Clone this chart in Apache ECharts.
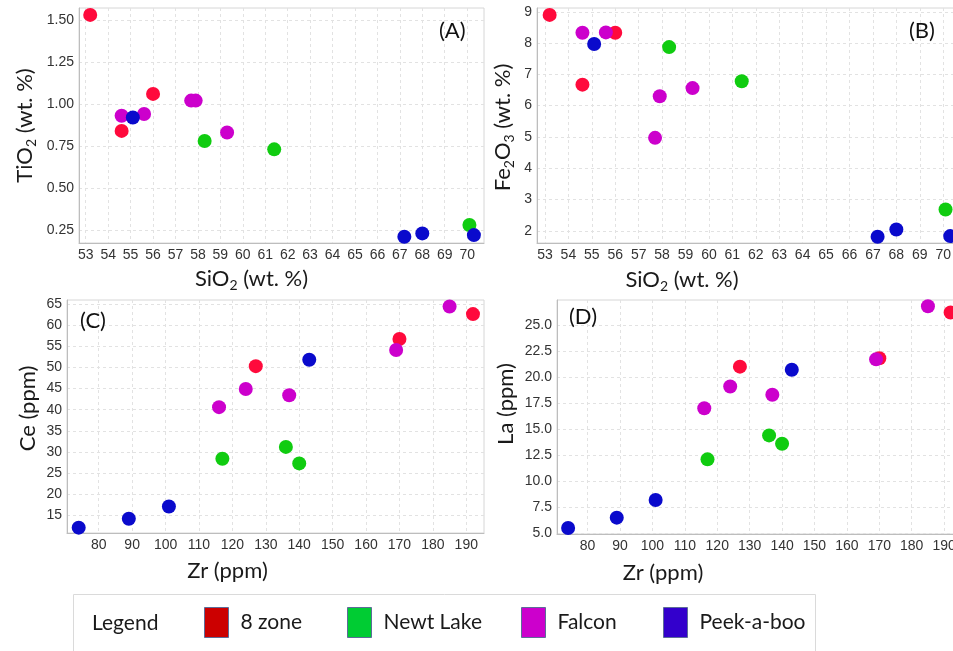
<!DOCTYPE html>
<html>
<head>
<meta charset="utf-8">
<script src="https://cdn.jsdelivr.net/npm/echarts@6/dist/echarts.min.js"></script>
<style>
  html, body { margin: 0; padding: 0; background: #ffffff; }
  #chart { width: 953px; height: 651px; }
</style>
</head>
<body>
<div id="chart"></div>
<script>
// Sample groups
const groups = ['8 zone', 'Newt Lake', 'Falcon', 'Peek-a-boo'];

// 8 zone
const zone8SiO2 = [53.2, 56.0, 54.6];
const zone8TiO2 = [1.53, 1.06, 0.84];
const zone8Fe2O3 = [8.90, 8.33, 6.67];
const zone8Zr = [127, 170, 192];
const zone8Ce = [50.3, 56.7, 62.6];
const zone8La = [21.0, 21.8, 26.2];

// Newt Lake
const newtSiO2 = [58.3, 61.4, 70.1];
const newtTiO2 = [0.78, 0.73, 0.28];
const newtFe2O3 = [7.87, 6.78, 2.68];
const newtZr = [117, 136, 140];
const newtCe = [28.4, 31.2, 27.3];
const newtLa = [12.1, 14.4, 13.6];

// Falcon
const falconSiO2 = [54.6, 55.6, 57.7, 57.9, 59.3];
const falconTiO2 = [0.93, 0.94, 1.02, 1.02, 0.83];
const falconFe2O3 = [8.33, 8.34, 4.97, 6.30, 6.56];
const falconZr = [116, 124, 137, 169, 185];
const falconCe = [40.6, 44.9, 43.4, 54.1, 64.4];
const falconLa = [17.0, 19.1, 18.3, 21.7, 26.8];

// Peek-a-boo
const peekSiO2 = [55.1, 67.2, 68.0, 70.3];
const peekTiO2 = [0.92, 0.21, 0.23, 0.22];
const peekFe2O3 = [7.97, 1.81, 2.04, 1.83];
const peekZr = [74, 89, 101, 143];
const peekCe = [12.1, 14.2, 17.1, 51.8];
const peekLa = [5.5, 6.5, 8.2, 20.7];

// Tick values
const sio2Ticks = [53, 54, 55, 56, 57, 58, 59, 60, 61, 62, 63, 64, 65, 66, 67, 68, 69, 70];
const tio2Ticks = [0.25, 0.50, 0.75, 1.00, 1.25, 1.50];
const fe2o3Ticks = [2, 3, 4, 5, 6, 7, 8, 9];
const zrTicks = [80, 90, 100, 110, 120, 130, 140, 150, 160, 170, 180, 190];
const ceTicks = [15, 20, 25, 30, 35, 40, 45, 50, 55, 60, 65];
const laTicks = [5.0, 7.5, 10.0, 12.5, 15.0, 17.5, 20.0, 22.5, 25.0];

// Styling
const markerColors = ['#ff0a3c', '#10cc10', '#cc00cc', '#0a0acc'];
const swatchColors = ['#cc0000', '#00cc33', '#cc00cc', '#3300cc'];
const legendLefts = [204, 347, 521, 663];
const textColor = '#1a1a1a';
const titleFont = 'Lato, "Open Sans", sans-serif';
const tickFont = '"Liberation Sans", Arial, sans-serif';

const zip = (xs, ys) => xs.map((x, i) => [x, ys[i]]);

const panels = [
  {
    grid: { left: 79, top: 8, width: 405, height: 235 },
    label: '(A)', labelPos: { left: 439, top: 20 },
    x: { min: 52.7, max: 70.75, ticks: sio2Ticks, digits: 0, name: 'SiO{s|2} (wt. %)', gap: 23, pad: [0, 60, 0, 0] },
    y: { min: 0.173, max: 1.571, ticks: tio2Ticks, digits: 2, name: 'TiO{s|2} (wt. %)', gap: 41, pad: [0, 0, 0, 0] },
    data: [[zone8SiO2, zone8TiO2], [newtSiO2, newtTiO2], [falconSiO2, falconTiO2], [peekSiO2, peekTiO2]]
  },
  {
    grid: { left: 537, top: 8, width: 424, height: 235 },
    label: '(B)', labelPos: { left: 909, top: 20 },
    x: { min: 52.66, max: 70.76, ticks: sio2Ticks, digits: 0, name: 'SiO{s|2} (wt. %)', gap: 24, pad: [0, 134, 0, 0] },
    y: { min: 1.61, max: 9.12, ticks: fe2o3Ticks, digits: 0, name: 'Fe{s|2}O{s|3} (wt. %)', gap: 21, pad: [0, 4, 0, 0] },
    data: [[zone8SiO2, zone8Fe2O3], [newtSiO2, newtFe2O3], [falconSiO2, falconFe2O3], [peekSiO2, peekFe2O3]]
  },
  {
    grid: { left: 67, top: 300, width: 417, height: 233 },
    label: '(C)', labelPos: { left: 80, top: 310 },
    x: { min: 70.5, max: 195.3, ticks: zrTicks, digits: 0, name: 'Zr (ppm)', gap: 27, pad: [0, 96, 0, 0] },
    y: { min: 10.84, max: 65.94, ticks: ceTicks, digits: 0, name: 'Ce (ppm)', gap: 28, pad: [0, 0, 0, 16] },
    data: [[zone8Zr, zone8Ce], [newtZr, newtCe], [falconZr, falconCe], [peekZr, peekCe]]
  },
  {
    grid: { left: 557, top: 300, width: 404, height: 234 },
    label: '(D)', labelPos: { left: 569, top: 306 },
    x: { min: 70.57, max: 195.2, ticks: zrTicks, digits: 0, name: 'Zr (ppm)', gap: 28, pad: [0, 192, 0, 0] },
    y: { min: 4.93, max: 27.4, ticks: laTicks, digits: 1, name: 'La (ppm)', gap: 40, pad: [0, 0, 0, 26] },
    data: [[zone8Zr, zone8La], [newtZr, newtLa], [falconZr, falconLa], [peekZr, peekLa]]
  }
];

function nameStyle(padding) {
  return {
    fontFamily: titleFont, fontSize: 22, color: textColor, padding: padding,
    rich: { s: { fontFamily: titleFont, fontSize: 14, color: textColor, padding: [12, 0, 0, 0] } }
  };
}

function axis(spec, gridIndex) {
  return {
    type: 'value', gridIndex: gridIndex,
    min: spec.min, max: spec.max,
    name: spec.name, nameLocation: 'middle', nameGap: spec.gap,
    nameTextStyle: nameStyle(spec.pad),
    axisLine: { show: true, lineStyle: { color: '#bdbdbd', width: 1 } },
    axisTick: { show: false, customValues: spec.ticks },
    axisLabel: {
      customValues: spec.ticks, margin: 5,
      fontFamily: tickFont, fontSize: 14, color: '#333',
      formatter: v => Number(v).toFixed(spec.digits)
    },
    splitLine: { show: true, lineStyle: { color: '#e2e2e2', type: [3, 3], width: 1 } }
  };
}

const option = {
  backgroundColor: '#ffffff',
  animation: false,
  grid: panels.map(p => Object.assign({ show: true, borderColor: '#d6d6d6', borderWidth: 1, backgroundColor: 'transparent', outerBoundsMode: 'none' }, p.grid)),
  xAxis: panels.map((p, i) => axis(p.x, i)),
  yAxis: panels.map((p, i) => axis(p.y, i)),
  title: panels.map(p => ({
    text: p.label, left: p.labelPos.left, top: p.labelPos.top, padding: 0,
    textStyle: { fontFamily: titleFont, fontSize: 22, fontWeight: 'normal', color: '#111' }
  })),
  legend: groups.map((g, i) => ({
    data: [{ name: g, itemStyle: { color: swatchColors[i], borderColor: '#5d6c98', borderWidth: 1 } }],
    left: legendLefts[i], top: 607, padding: 0,
    icon: 'rect', itemWidth: 24, itemHeight: 30,
    textStyle: { fontFamily: titleFont, fontSize: 21, color: textColor, padding: [0, 0, 0, 7] }
  })),
  graphic: [
    { type: 'rect', z: 0, shape: { x: 73.5, y: 594.5, width: 742, height: 80 }, style: { fill: '#ffffff', stroke: '#dadada', lineWidth: 1 } },
    { type: 'text', z: 1, x: 92, y: 623, style: { text: 'Legend', font: '21px ' + titleFont, fill: textColor, verticalAlign: 'middle' } }
  ],
  series: []
};

panels.forEach((p, pi) => {
  p.data.forEach((pair, gi) => {
    option.series.push({
      type: 'scatter', name: groups[gi],
      xAxisIndex: pi, yAxisIndex: pi,
      symbol: 'circle', symbolSize: 14,
      itemStyle: { color: markerColors[gi], opacity: 1 },
      emphasis: { disabled: true },
      data: zip(pair[0], pair[1])
    });
  });
});

const chart = echarts.init(document.getElementById('chart'), null, { renderer: 'canvas' });
chart.setOption(option);
</script>
</body>
</html>
